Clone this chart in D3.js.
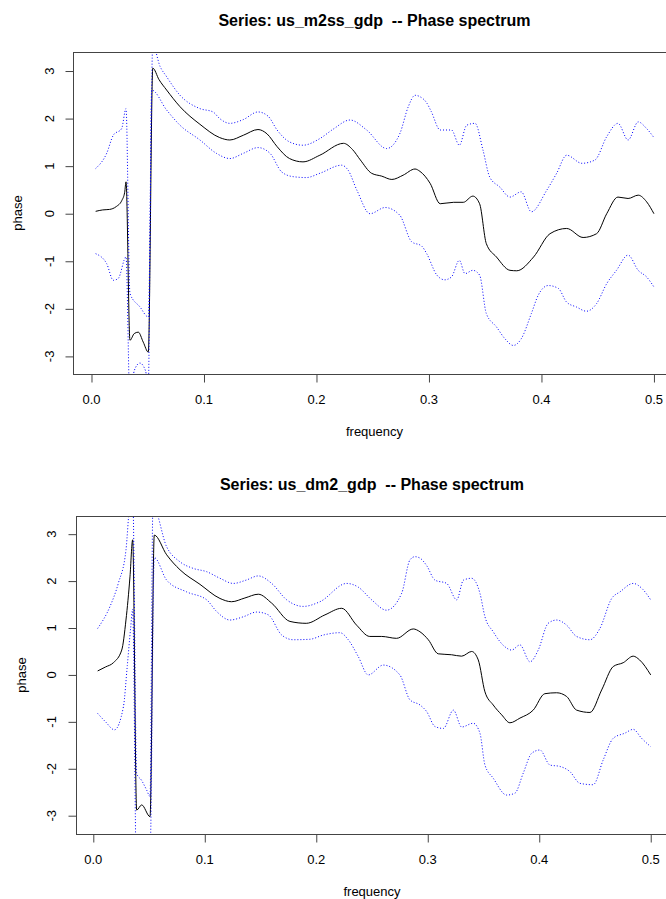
<!DOCTYPE html>
<html>
<head>
<meta charset="utf-8">
<script src="https://cdn.jsdelivr.net/npm/d3@7"></script>
<style>
  body { margin: 0; background: #fff; }
  svg text { font-family: "Liberation Sans", Arial, sans-serif; fill: #000; white-space: pre; }
</style>
</head>
<body>
<svg id="chart" width="666" height="899"></svg>
<script>
// Tick values shared by both panels
var xTicks = [0.0, 0.1, 0.2, 0.3, 0.4, 0.5];
var yTicks = [-3, -2, -1, 0, 1, 2, 3];

// Series: us_m2ss_gdp  [frequency, phase]
var m2ssPhase = [[0.0037,0.05],[0.010,0.08],[0.016,0.09],[0.022,0.15],[0.027,0.28],[0.0295,0.45],[0.0307,0.67],
  [0.0342,-2.66],[0.038,-2.52],[0.0416,-2.49],[0.046,-2.70],[0.0505,-2.91],[0.0545,3.06],[0.060,2.82],[0.0668,2.6],
  [0.0787,2.25],[0.0964,1.88],[0.114,1.6],[0.123,1.55],[0.135,1.65],[0.148,1.77],[0.156,1.68],[0.165,1.41],
  [0.176,1.16],[0.188,1.09],[0.203,1.23],[0.224,1.48],[0.232,1.35],[0.239,1.13],[0.249,0.85],[0.258,0.79],
  [0.267,0.72],[0.277,0.81],[0.2876,0.94],[0.292,0.89],[0.301,0.64],[0.31,0.21],[0.322,0.24],[0.3305,0.24],
  [0.339,0.37],[0.345,0.21],[0.351,-0.63],[0.36,-0.91],[0.372,-1.19],[0.378,-1.2],[0.393,-0.91],[0.4076,-0.42],
  [0.4224,-0.31],[0.437,-0.5],[0.449,-0.42],[0.458,0.0],[0.468,0.35],[0.477,0.32],[0.486,0.39],[0.4935,0.25],[0.5,0.0]];
var m2ssUpper = [[0.0037,0.95],[0.0135,1.27],[0.0194,1.65],[0.0268,1.79],[0.0307,2.21],[0.0342,-1.68],[0.0431,-1.96],
  [0.0505,-2.17],[0.0545,3.55],[0.0609,3.1],[0.0668,2.88],[0.0787,2.49],[0.0964,2.21],[0.108,2.14],[0.114,2.0],
  [0.123,1.9],[0.135,1.98],[0.148,2.14],[0.157,2.05],[0.165,1.76],[0.176,1.51],[0.188,1.44],[0.203,1.58],[0.215,1.78],
  [0.2298,1.97],[0.2446,1.76],[0.2624,1.37],[0.2742,1.69],[0.2816,2.25],[0.2876,2.49],[0.292,2.46],[0.298,2.33],
  [0.302,2.15],[0.31,1.76],[0.32,1.76],[0.327,1.44],[0.3335,1.86],[0.341,1.9],[0.348,1.34],[0.354,0.77],[0.363,0.56],
  [0.372,0.35],[0.382,0.46],[0.391,0.04],[0.4046,0.49],[0.4135,0.85],[0.4224,1.23],[0.436,1.06],[0.4476,1.13],
  [0.458,1.62],[0.468,1.9],[0.477,1.55],[0.486,1.93],[0.4935,1.79],[0.5,1.6]];
var m2ssLower = [[0.0037,-0.84],[0.0135,-1.05],[0.0194,-1.4],[0.0238,-1.36],[0.0307,-0.91],[0.0342,-4.0],[0.038,-3.3],
  [0.043,-3.14],[0.048,-3.3],[0.0505,-3.6],[0.0535,2.6],[0.0668,2.18],[0.0787,1.86],[0.0964,1.55],[0.111,1.27],
  [0.123,1.16],[0.135,1.27],[0.148,1.39],[0.1587,1.27],[0.169,0.88],[0.179,0.78],[0.191,0.76],[0.203,0.85],
  [0.2224,1.02],[0.228,0.92],[0.236,0.49],[0.2476,0.0],[0.261,0.13],[0.274,-0.03],[0.2846,-0.59],[0.2935,-0.68],
  [0.298,-0.84],[0.307,-1.29],[0.314,-1.39],[0.32,-1.33],[0.327,-0.98],[0.332,-1.26],[0.339,-1.19],[0.345,-1.29],
  [0.351,-2.1],[0.36,-2.38],[0.3676,-2.63],[0.375,-2.77],[0.382,-2.63],[0.391,-2.1],[0.397,-1.72],[0.406,-1.51],
  [0.415,-1.57],[0.4224,-1.86],[0.431,-1.96],[0.44,-2.05],[0.449,-1.89],[0.458,-1.47],[0.4667,-1.19],[0.477,-0.87],
  [0.486,-1.19],[0.4935,-1.33],[0.5,-1.54]];

// Series: us_dm2_gdp  [frequency, phase]
var dm2Phase = [[0.0039,0.085],[0.011,0.17],[0.018,0.26],[0.0255,0.53],[0.0293,1.17],[0.0329,2.09],[0.0353,2.88],
  [0.0389,-2.88],[0.0434,-2.77],[0.0509,-3.02],[0.0547,2.98],[0.0658,2.56],[0.0778,2.24],[0.0957,1.93],[0.1136,1.63],
  [0.124,1.56],[0.136,1.64],[0.148,1.72],[0.16,1.53],[0.1764,1.14],[0.191,1.1],[0.2078,1.28],[0.2228,1.42],
  [0.2362,1.06],[0.248,0.82],[0.2587,0.82],[0.272,0.78],[0.287,0.98],[0.293,0.92],[0.3005,0.75],[0.3094,0.45],
  [0.3214,0.43],[0.3304,0.4],[0.3394,0.5],[0.3453,0.32],[0.3513,-0.36],[0.3587,-0.64],[0.3663,-0.85],[0.3737,-1.02],
  [0.3827,-0.92],[0.3946,-0.75],[0.405,-0.4],[0.4156,-0.38],[0.4246,-0.46],[0.4335,-0.75],[0.4455,-0.8],[0.456,-0.32],
  [0.4664,0.18],[0.4753,0.26],[0.4843,0.4],[0.49,0.32],[0.5,0.0]];
var dm2Upper = [[0.0039,0.99],[0.015,1.46],[0.0224,1.95],[0.0293,2.66],[0.0325,3.6],[0.0353,3.9],[0.0389,-2.1],
  [0.0434,-2.25],[0.0478,-2.45],[0.0509,-2.59],[0.0535,3.6],[0.0658,2.73],[0.0778,2.41],[0.0897,2.27],[0.1017,2.2],
  [0.1136,2.06],[0.1256,1.95],[0.137,2.02],[0.148,2.11],[0.16,1.95],[0.1735,1.6],[0.1883,1.46],[0.2033,1.56],
  [0.2273,1.95],[0.2377,1.87],[0.2497,1.6],[0.263,1.38],[0.2766,1.74],[0.284,2.45],[0.2885,2.52],[0.293,2.49],
  [0.299,2.33],[0.3065,2.02],[0.317,1.95],[0.326,1.6],[0.332,2.02],[0.3394,2.06],[0.3468,1.74],[0.3513,1.24],
  [0.3587,0.92],[0.3692,0.6],[0.3752,0.53],[0.3827,0.64],[0.3917,0.28],[0.3991,0.53],[0.408,1.1],[0.4156,1.17],
  [0.4246,1.06],[0.4335,0.82],[0.4455,0.75],[0.4544,0.99],[0.465,1.63],[0.4724,1.77],[0.4843,1.95],[0.4918,1.85],[0.5,1.6]];
var dm2Lower = [[0.0039,-0.82],[0.011,-1.0],[0.019,-1.17],[0.027,-0.68],[0.0305,0.2],[0.0335,1.0],[0.0353,1.4],
  [0.0389,-4.5],[0.044,-3.45],[0.0509,-3.8],[0.0547,2.5],[0.0658,2.02],[0.0837,1.77],[0.1017,1.6],[0.1107,1.35],
  [0.1226,1.17],[0.1346,1.24],[0.1465,1.34],[0.157,1.28],[0.169,0.85],[0.1794,0.75],[0.1943,0.76],[0.2063,0.85],
  [0.2213,0.9],[0.2287,0.75],[0.2377,0.39],[0.2466,0.0],[0.2601,0.21],[0.275,0.0],[0.284,-0.53],[0.293,-0.64],
  [0.299,-0.78],[0.3065,-1.1],[0.314,-1.14],[0.323,-0.75],[0.3304,-1.11],[0.3408,-1.03],[0.3468,-1.24],[0.3513,-1.92],
  [0.3587,-2.2],[0.3708,-2.56],[0.3782,-2.52],[0.3857,-2.09],[0.3932,-1.67],[0.4006,-1.6],[0.4096,-1.92],
  [0.4185,-1.95],[0.4275,-2.06],[0.4365,-2.31],[0.4484,-2.34],[0.4574,-1.81],[0.4664,-1.35],[0.4769,-1.24],
  [0.4843,-1.16],[0.4918,-1.35],[0.5,-1.53]];

// Panel layout (pixel boxes)
var panels = [
  { title: "Series: us_m2ss_gdp  -- Phase spectrum", id: "p1",
    left: 73, right: 676, top: 52, bottom: 374,
    xdom: [-0.01644, 0.5196], ydom: [-3.37, 3.40],
    titleY: 26, tickLabY: 404, xLabY: 436, yTickX: 54, yLabX: 22,
    phase: m2ssPhase, upper: m2ssUpper, lower: m2ssLower },
  { title: "Series: us_dm2_gdp  -- Phase spectrum", id: "p2",
    left: 76, right: 668, top: 516, bottom: 834,
    xdom: [-0.01552, 0.5155], ydom: [-3.39, 3.387],
    titleY: 490, tickLabY: 864, xLabY: 896, yTickX: 56, yLabX: 26,
    phase: dm2Phase, upper: dm2Upper, lower: dm2Lower }
];

var svg = d3.select("#chart");
svg.append("rect").attr("width", 666).attr("height", 899).attr("fill", "#fff");

panels.forEach(function (p) {
    var x = d3.scaleLinear().domain(p.xdom).range([p.left, p.right]);
    var y = d3.scaleLinear().domain(p.ydom).range([p.bottom, p.top]);

    svg.append("clipPath").attr("id", "clip-" + p.id)
        .append("rect")
        .attr("x", p.left).attr("y", p.top)
        .attr("width", p.right - p.left).attr("height", p.bottom - p.top);

    var line = d3.line()
        .x(function (d) { return x(d[0]); })
        .y(function (d) { return y(d[1]); })
        .curve(d3.curveMonotoneX);

    var g = svg.append("g").attr("clip-path", "url(#clip-" + p.id + ")");

    g.append("path").datum(p.phase)
        .attr("d", line)
        .attr("fill", "none")
        .attr("stroke", "#000")
        .attr("stroke-width", 1);

    [p.upper, p.lower].forEach(function (band) {
        g.append("path").datum(band)
            .attr("d", line)
            .attr("fill", "none")
            .attr("stroke", "#0000ff")
            .attr("stroke-width", 1)
            .attr("stroke-dasharray", "1,2");
    });

    // box
    svg.append("rect")
        .attr("x", p.left + 0.5).attr("y", p.top + 0.5)
        .attr("width", p.right - p.left).attr("height", p.bottom - p.top)
        .attr("fill", "none").attr("stroke", "#444").attr("stroke-width", 1);

    // x axis
    var xAxis = d3.axisBottom(x).tickValues(xTicks).tickSize(8)
        .tickFormat(d3.format(".1f"));
    var gx = svg.append("g").attr("transform", "translate(0," + (p.bottom + 0.5) + ")").call(xAxis);
    gx.select(".domain").remove();
    gx.selectAll(".tick line").attr("stroke", "#444");
    gx.selectAll(".tick text").remove();
    xTicks.forEach(function (t) {
        svg.append("text").attr("x", x(t)).attr("y", p.tickLabY)
            .attr("text-anchor", "middle").attr("font-size", 13)
            .text(d3.format(".1f")(t));
    });

    // y axis
    var yAxis = d3.axisLeft(y).tickValues(yTicks).tickSize(8);
    var gy = svg.append("g").attr("transform", "translate(" + (p.left + 0.5) + ",0)").call(yAxis);
    gy.select(".domain").remove();
    gy.selectAll(".tick line").attr("stroke", "#444");
    gy.selectAll(".tick text").remove();
    yTicks.forEach(function (t) {
        svg.append("text")
            .attr("transform", "translate(" + p.yTickX + "," + y(t) + ") rotate(-90)")
            .attr("text-anchor", "middle").attr("font-size", 13)
            .text(t);
    });

    // labels
    svg.append("text").attr("x", (p.left + p.right) / 2).attr("y", p.titleY)
        .attr("text-anchor", "middle").attr("font-size", 16).attr("font-weight", "bold")
        .text(p.title);
    svg.append("text").attr("x", (p.left + p.right) / 2).attr("y", p.xLabY)
        .attr("text-anchor", "middle").attr("font-size", 13)
        .text("frequency");
    svg.append("text")
        .attr("transform", "translate(" + p.yLabX + "," + ((p.top + p.bottom) / 2) + ") rotate(-90)")
        .attr("text-anchor", "middle").attr("font-size", 13)
        .text("phase");
});
</script>
</body>
</html>
